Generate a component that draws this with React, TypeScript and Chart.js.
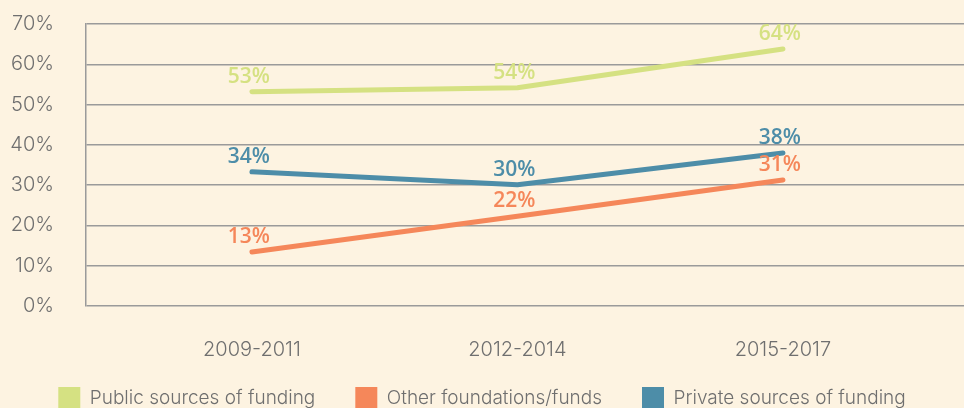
import React, { useEffect, useRef } from "react";
import { Chart, registerables } from "chart.js";

Chart.register(...registerables);

const categories = ["2009-2011", "2012-2014", "2015-2017"];
const publicFunding = [53.2, 54.2, 63.8];
const otherFoundations = [13.4, 22.3, 31.3];
const privateFunding = [33.3, 30.1, 38.0];
const publicLabels = ["53%", "54%", "64%"];
const otherLabels = ["13%", "22%", "31%"];
const privateLabels = ["34%", "30%", "38%"];
const yTicks = [0, 10, 20, 30, 40, 50, 60, 70];

const BG = "#FDF3E1";
const GREEN = "#D5E182";
const ORANGE = "#F5875A";
const BLUE = "#4D8DA8";
const GRID = "#9A9A9A";
const TEXT = "#6F6F6F";
const FONT = "Inter, 'Open Sans', sans-serif";
const X_AXIS_H = 41;

const pointLabels = {
  id: "pointLabels",
  beforeDraw(chart: any) {
    if (chart.legend) {
      const h = chart.legend.height;
      chart.legend.top = chart.chartArea.bottom + X_AXIS_H;
      chart.legend.bottom = chart.legend.top + h;
    }
  },
  afterDatasetsDraw(chart: any) {
    const ctx = chart.ctx;
    ctx.save();
    ctx.font = `600 21px 'Open Sans', sans-serif`;
    ctx.textAlign = "center";
    ctx.textBaseline = "middle";
    chart.data.datasets.forEach((ds: any, i: number) => {
      const meta = chart.getDatasetMeta(i);
      meta.data.forEach((pt: any, j: number) => {
        ctx.fillStyle = ds.borderColor;
        ctx.fillText(ds.valueLabels[j], pt.x - 3, pt.y - 15);
      });
    });
    ctx.restore();
  },
};

export default function App() {
  const ref = useRef<HTMLCanvasElement | null>(null);
  useEffect(() => {
    const toPts = (arr: number[]) => arr.map((v, i) => ({ x: i, y: v }));
    const mk = (label: string, arr: number[], color: string, labels: string[]) =>
      ({
        label,
        data: toPts(arr),
        borderColor: color,
        backgroundColor: color,
        borderWidth: 5,
        borderCapStyle: "round",
        borderJoinStyle: "round",
        pointRadius: 0,
        valueLabels: labels,
      } as any);
    const chart = new Chart(ref.current as HTMLCanvasElement, {
      type: "line",
      data: {
        datasets: [
          mk("Public sources of funding", publicFunding, GREEN, publicLabels),
          mk("Other foundations/funds", otherFoundations, ORANGE, otherLabels),
          mk("Private sources of funding", privateFunding, BLUE, privateLabels),
        ],
      },
      options: {
        animation: false,
        responsive: false,
        maintainAspectRatio: false,
        layout: { padding: { top: 24, left: 0, right: 0, bottom: 0 } },
        plugins: {
          tooltip: { enabled: false },
          legend: {
            position: "bottom",
            align: "center",
            labels: {
              boxWidth: 22,
              boxHeight: 22,
              padding: 40,
              color: TEXT,
              font: { family: FONT, size: 19, weight: "300" },
              generateLabels: (chart: any) =>
                Chart.defaults.plugins.legend.labels
                  .generateLabels(chart)
                  .map((l: any) => ({ ...l, lineWidth: 0, strokeStyle: "rgba(0,0,0,0)" })),
            },
          },
        },
        scales: {
          x: {
            type: "linear",
            min: -0.625,
            max: 2.682,
            afterBuildTicks: (axis: any) => {
              axis.ticks = categories.map((_, i) => ({ value: i }));
            },
            afterFit: (axis: any) => {
              axis.height = 62;
            },
            grid: { display: false, drawTicks: false },
            border: { display: false },
            ticks: {
              color: TEXT,
              padding: 32,
              maxRotation: 0,
              font: { family: FONT, size: 20, weight: "300" },
              callback: (v: any) => categories[v] ?? "",
            },
          },
          y: {
            min: 0,
            max: 70,
            afterBuildTicks: (axis: any) => {
              axis.ticks = yTicks.map((v) => ({ value: v }));
            },
            afterFit: (axis: any) => {
              axis.width = 86;
            },
            grid: {
              color: GRID,
              lineWidth: 1.5,
              drawTicks: true,
              tickLength: 32,
              tickColor: "rgba(0,0,0,0)",
            },
            border: { display: true, color: GRID, width: 1.5 },
            ticks: {
              color: TEXT,
              padding: 0,
              font: { family: FONT, size: 20, weight: "300" },
              callback: (v: any) => v + "%",
            },
          },
        },
      },
      plugins: [pointLabels],
    });
    return () => chart.destroy();
  }, []);
  return (
    <div
      style={{
        position: "fixed",
        left: 0,
        top: 0,
        width: 964,
        height: 408,
        overflow: "hidden",
        background: BG,
      }}
    >
      <canvas ref={ref} width={964} height={440} style={{ display: "block" }} />
    </div>
  );
}
